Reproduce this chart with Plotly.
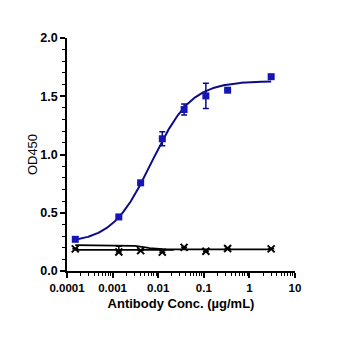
import numpy as np
import plotly.graph_objects as go

# Data
conc = [0.000152, 0.00137, 0.00412, 0.0123, 0.037, 0.111, 0.333, 3.0]
od_antibody = [0.272, 0.464, 0.757, 1.135, 1.386, 1.503, 1.552, 1.668]
err_antibody = [0.0, 0.0, 0.0, 0.06, 0.048, 0.108, 0.0, 0.0]
od_control = [0.19, 0.163, 0.175, 0.162, 0.203, 0.17, 0.193, 0.19]
err_control_plus = [0.0, 0.05, 0.0, 0.0, 0.0, 0.0, 0.0, 0.0]

# 4PL fit parameters (bottom, top, EC50, hill)
fit_antibody = [0.24, 1.63, 0.0072, 1.0]
fit_control_a = [0.222, 0.185, 0.005, 3.0]
fit_control_b = [0.182, 0.182, 0.005, 1.0]
fit_control_b_end = 0.022

def four_pl(x, p):
    b, t, c, h = p
    return b + (t - b) / (1 + (c / x) ** h)

xs = np.logspace(np.log10(conc[0]), np.log10(conc[-1]), 300)
xs_b = np.logspace(np.log10(conc[0]), np.log10(fit_control_b_end), 100)

navy = "#0c0c86"
blue = "#1616b4"

fig = go.Figure()
fig.add_trace(go.Scatter(x=xs, y=four_pl(xs, fit_antibody), mode="lines",
                         line=dict(color=navy, width=2), showlegend=False, hoverinfo="skip"))
fig.add_trace(go.Scatter(x=xs, y=four_pl(xs, fit_control_a), mode="lines",
                         line=dict(color="black", width=1.8), showlegend=False, hoverinfo="skip"))
fig.add_trace(go.Scatter(x=xs_b, y=four_pl(xs_b, fit_control_b), mode="lines",
                         line=dict(color="black", width=1.8), showlegend=False, hoverinfo="skip"))
fig.add_trace(go.Scatter(x=conc, y=od_control, mode="markers",
                         marker=dict(symbol="x-thin", size=7, line=dict(color="black", width=2)),
                         error_y=dict(type="data", array=err_control_plus, arrayminus=[0]*8,
                                      color="black", thickness=1.5, width=3),
                         showlegend=False))
fig.add_trace(go.Scatter(x=conc, y=od_antibody, mode="markers",
                         marker=dict(symbol="square", size=7, color=blue),
                         error_y=dict(type="data", array=err_antibody, color=navy,
                                      thickness=1.5, width=3),
                         showlegend=False))

font = "Liberation Sans, Arial, sans-serif"
fig.update_layout(
    width=350, height=338,
    margin=dict(l=67, r=55, t=38, b=67),
    paper_bgcolor="white", plot_bgcolor="white",
    font=dict(family=font, color="black"),
    xaxis=dict(type="log", range=[-4, 1], showgrid=False, zeroline=False,
               showline=True, linecolor="black", linewidth=1.5,
               ticks="outside", ticklen=5, tickwidth=1.5, tickcolor="black",
               tickvals=[0.0001, 0.001, 0.01, 0.1, 1, 10],
               ticktext=["<b>0.0001</b>", "<b>0.001</b>", "<b>0.01</b>", "<b>0.1</b>", "<b>1</b>", "<b>10</b>"],
               tickfont=dict(size=11.5),
               minor=dict(ticks="outside", ticklen=3, tickwidth=1, tickcolor="black",
                          tickvals=[m * 10 ** e for e in range(-4, 1) for m in range(2, 10)]),
               title=dict(text="<b>Antibody Conc. (µg/mL)</b>", font=dict(size=13), standoff=6)),
    yaxis=dict(range=[0, 2.0], showgrid=False, zeroline=False,
               showline=True, linecolor="black", linewidth=1.5,
               ticks="outside", ticklen=5, tickwidth=1.5, tickcolor="black",
               tickvals=[0, 0.5, 1.0, 1.5, 2.0],
               ticktext=["<b>0.0</b>", "<b>0.5</b>", "<b>1.0</b>", "<b>1.5</b>", "<b>2.0</b>"],
               tickfont=dict(size=12.5),
               minor=dict(ticks="outside", ticklen=3, tickwidth=1, tickcolor="black", dtick=0.1),
               title=dict(text="OD450", font=dict(size=13), standoff=0)),
)

fig.write_html("out.html")
